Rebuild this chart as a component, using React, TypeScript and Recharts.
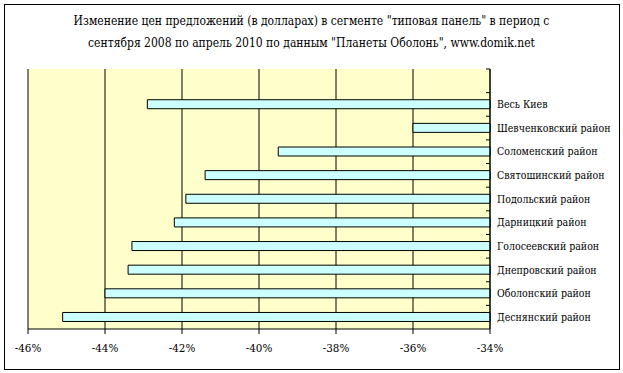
import React from "react"
import { BarChart, Bar, XAxis, YAxis, CartesianGrid } from "recharts"

// districts, top to bottom (first row is an empty category in the source chart)
const districts = [
  "",
  "Весь Киев",
  "Шевченковский район",
  "Соломенский район",
  "Святошинский район",
  "Подольский район",
  "Дарницкий район",
  "Голосеевский район",
  "Днепровский район",
  "Оболонский район",
  "Деснянский район",
]

// price change, %
const changes: (number | null)[] = [null, -42.9, -36.0, -39.5, -41.4, -41.9, -42.2, -43.3, -43.4, -44.0, -45.1]

const xTicks = [-46, -44, -42, -40, -38, -36, -34]

const titleLines = [
  "Изменение цен предложений (в долларах) в сегменте \"типовая панель\" в период с",
  "сентября 2008 по апрель 2010 по данным \"Планеты Оболонь\", www.domik.net",
]

const data = districts.map((name, i) => ({ name, value: changes[i] }))

const FONT = "'DejaVu Serif Condensed', 'DejaVu Serif', serif"

function CategoryTick(props: any) {
  const { x, y, payload } = props
  const off = payload?.offset ?? 11.8
  const axisX = x - 7
  return (
    <g>
      <line x1={axisX - 4} x2={axisX} y1={y - off} y2={y - off} stroke="#000" />
      <text
        x={x}
        y={y}
        dy="0.35em"
        textAnchor="start"
        fill="#000"
        fontSize={10.5}
        fontFamily={FONT}
        style={{ fontStretch: "condensed" }}
      >
        {payload.value}
      </text>
    </g>
  )
}

export default function App() {
  return (
    <div style={{ position: "absolute", left: 0, top: 0, width: 623, height: 373, background: "#fff" }}>
      <div
        style={{
          position: "absolute",
          left: 4,
          top: 4,
          width: 614,
          height: 364,
          border: "1px solid #000",
        }}
      />
      <div
        style={{
          position: "absolute",
          left: 0,
          top: 10,
          width: 623,
          textAlign: "center",
          fontFamily: FONT,
          fontStretch: "condensed",
          fontSize: 12,
          lineHeight: "22px",
          color: "#000",
        }}
      >
        {titleLines.map((t) => (
          <div key={t}>{t}</div>
        ))}
      </div>
      <div style={{ position: "absolute", left: 0, top: 0 }}>
        <BarChart
          width={623}
          height={373}
          data={data}
          layout="vertical"
          margin={{ top: 69, right: 8, bottom: 14, left: 28 }}
          barCategoryGap="30%"
        >
          <CartesianGrid horizontal={false} stroke="#000" strokeOpacity={1} fill="#FFFFCC" fillOpacity={1} />
          <XAxis
            type="number"
            domain={[-46, -34]}
            ticks={xTicks}
            tickFormatter={(v) => `${v}%`}
            height={30}
            tickSize={5}
            tickMargin={10}
            axisLine={{ stroke: "#000" }}
            tickLine={{ stroke: "#000" }}
            tick={{ fill: "#000", fontSize: 11.5, fontFamily: FONT, style: { fontStretch: "condensed" } }}
            interval={0}
          />
          <XAxis
            xAxisId="top"
            orientation="top"
            type="number"
            domain={[-46, -34]}
            height={0}
            tick={false}
            tickLine={false}
            axisLine={{ stroke: "#808080" }}
          />
          <YAxis
            yAxisId="left"
            orientation="left"
            type="category"
            dataKey="name"
            width={0}
            tick={false}
            tickLine={false}
            axisLine={{ stroke: "#808080" }}
          />
          <YAxis
            type="category"
            dataKey="name"
            orientation="right"
            width={125}
            tickSize={0}
            tickMargin={7}
            interval={0}
            axisLine={{ stroke: "#000" }}
            tick={<CategoryTick />}
          />
          <Bar dataKey="value" fill="#CCFFFF" stroke="#000" strokeWidth={1} isAnimationActive={false} />
        </BarChart>
      </div>
    </div>
  )
}
